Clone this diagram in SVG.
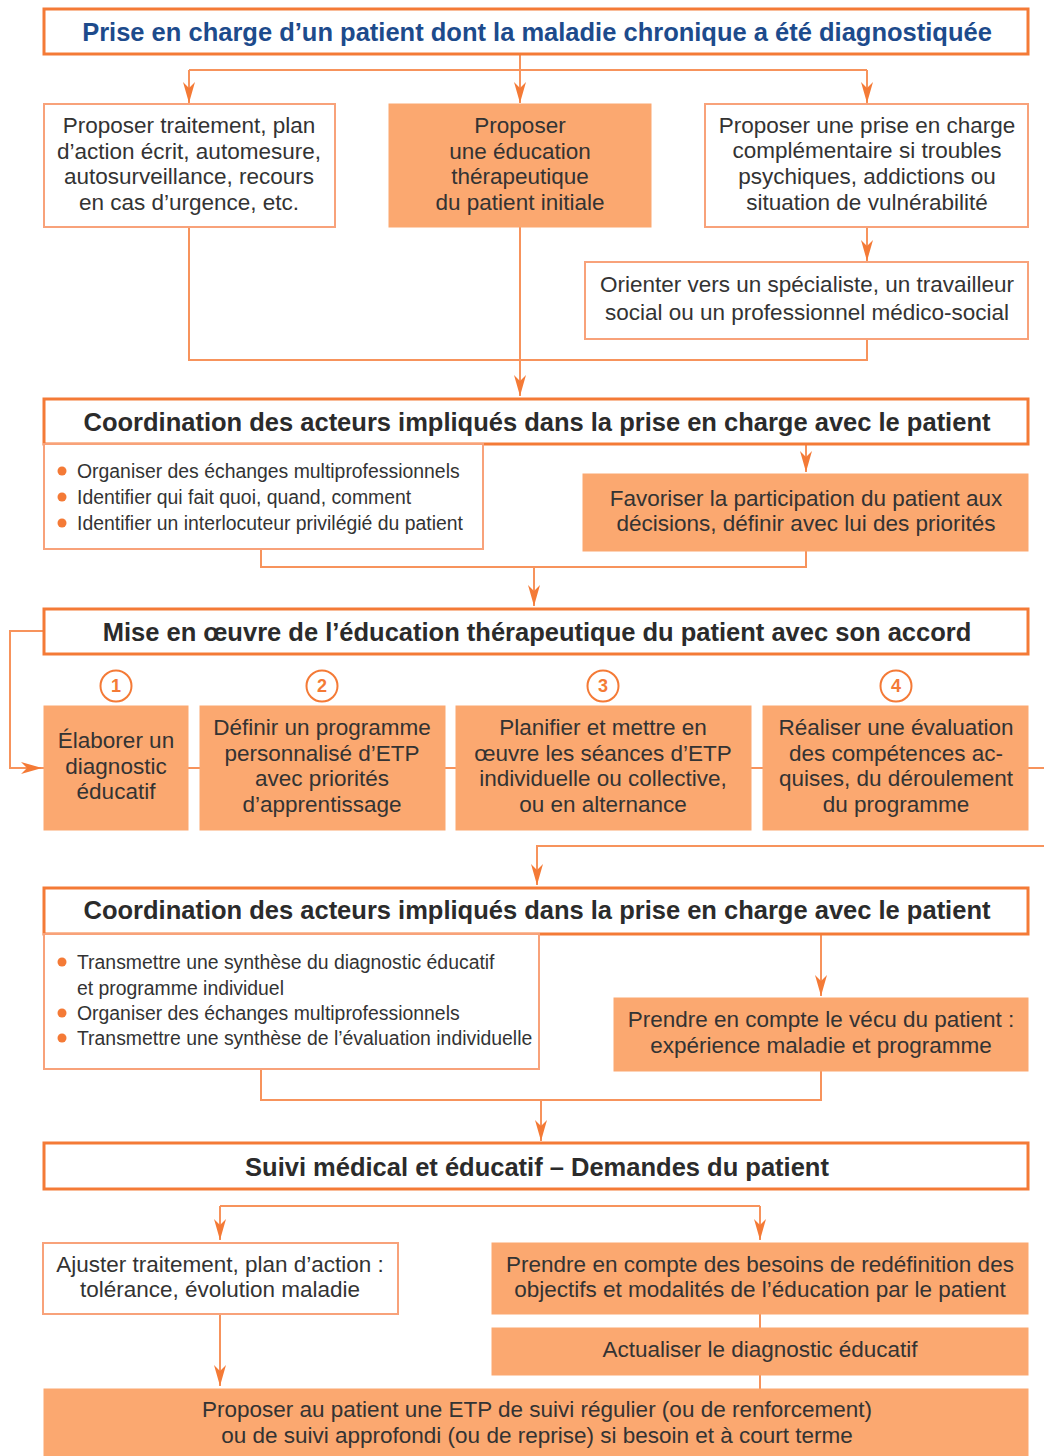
<svg xmlns="http://www.w3.org/2000/svg" width="1044" height="1456" viewBox="0 0 1044 1456">
<style>
.hdr{fill:#fff;stroke:#F47A36;stroke-width:3}
.wb{fill:#fff;stroke:#F8A27A;stroke-width:2}
.fb{fill:#FBA870;stroke:#FBA870;stroke-width:1}
.con{fill:none;stroke:#F7935C;stroke-width:2}
.t{font-family:"Liberation Sans",Arial,sans-serif;font-size:22.5px;fill:#333;text-anchor:middle}
.ht{font-family:"Liberation Sans",Arial,sans-serif;font-size:25.5px;font-weight:bold;fill:#2b2b2b;text-anchor:middle}
.bt{font-family:"Liberation Sans",Arial,sans-serif;font-size:19.4px;fill:#333}
.num{font-family:"Liberation Sans",Arial,sans-serif;font-size:18px;font-weight:bold;fill:#F47A36;text-anchor:middle}
.circ{fill:#fff;stroke:#F47A36;stroke-width:2}
.dot{fill:#F47A36}
</style>
<defs>
<marker id="ah" markerUnits="userSpaceOnUse" markerWidth="24" markerHeight="14" viewBox="-22 -7 24 14" refX="0" refY="0" orient="auto">
<path d="M0,0 L-21,-6 L-15,0 L-21,6 Z" fill="#F47A36"/>
</marker>
</defs>

<g id="connectors">
<path class="con" d="M520,54 V70 M189,70 H867" />
<path class="con" d="M189,70 V103" marker-end="url(#ah)"/>
<path class="con" d="M520,70 V103" marker-end="url(#ah)"/>
<path class="con" d="M867,70 V103" marker-end="url(#ah)"/>
<path class="con" d="M867,227 V261" marker-end="url(#ah)"/>
<path class="con" d="M189,227 V360 H867 V339"/>
<path class="con" d="M520,227 V396" marker-end="url(#ah)"/>
<path class="con" d="M806,444 V472" marker-end="url(#ah)"/>
<path class="con" d="M261,549 V567 H806 V551"/>
<path class="con" d="M534,567 V606" marker-end="url(#ah)"/>
<path class="con" d="M44,631 H10 V768 H42" marker-end="url(#ah)"/>
<path class="con" d="M42,768 H1044"/>
<path class="con" d="M1044,846 H537 V885" marker-end="url(#ah)"/>
<path class="con" d="M821,934 V996" marker-end="url(#ah)"/>
<path class="con" d="M261,1069 V1100 H821 V1071"/>
<path class="con" d="M541,1100 V1141" marker-end="url(#ah)"/>
<path class="con" d="M220,1206 H760"/>
<path class="con" d="M220,1206 V1240" marker-end="url(#ah)"/>
<path class="con" d="M760,1206 V1240" marker-end="url(#ah)"/>
<path class="con" d="M760,1314 V1328 M760,1375 V1389"/>
<path class="con" d="M220,1314 V1386" marker-end="url(#ah)"/>
</g>

<g id="header1">
<rect class="hdr" x="44" y="9" width="984" height="45"/>
<text class="ht" x="537" y="41" style="fill:#1D4B8C">Prise en charge d’un patient dont la maladie chronique a été diagnostiquée</text>
</g>

<g id="boxA">
<rect class="wb" x="44" y="104" width="291" height="123"/>
<text class="t" x="189" y="133">Proposer traitement, plan</text>
<text class="t" x="189" y="159">d’action écrit, automesure,</text>
<text class="t" x="189" y="184">autosurveillance, recours</text>
<text class="t" x="189" y="210">en cas d’urgence, etc.</text>
</g>

<g id="boxB">
<rect class="fb" x="389" y="104" width="262" height="123"/>
<text class="t" x="520" y="133">Proposer</text>
<text class="t" x="520" y="159">une éducation</text>
<text class="t" x="520" y="184">thérapeutique</text>
<text class="t" x="520" y="210">du patient initiale</text>
</g>

<g id="boxC">
<rect class="wb" x="705" y="104" width="323" height="123"/>
<text class="t" x="867" y="133">Proposer une prise en charge</text>
<text class="t" x="867" y="158">complémentaire si troubles</text>
<text class="t" x="867" y="184">psychiques, addictions ou</text>
<text class="t" x="867" y="210">situation de vulnérabilité</text>
</g>

<g id="boxD">
<rect class="wb" x="585" y="262" width="443" height="77"/>
<text class="t" x="807" y="292">Orienter vers un spécialiste, un travailleur</text>
<text class="t" x="807" y="320">social ou un professionnel médico-social</text>
</g>

<g id="header2">
<rect class="hdr" x="44" y="399" width="984" height="45"/>
<text class="ht" x="537" y="431">Coordination des acteurs impliqués dans la prise en charge avec le patient</text>
</g>

<g id="bullets1">
<rect class="wb" x="44" y="444" width="439" height="105"/>
<circle class="dot" cx="62" cy="471" r="4.5"/>
<circle class="dot" cx="62" cy="497" r="4.5"/>
<circle class="dot" cx="62" cy="523" r="4.5"/>
<text class="bt" x="77" y="478">Organiser des échanges multiprofessionnels</text>
<text class="bt" x="77" y="504">Identifier qui fait quoi, quand, comment</text>
<text class="bt" x="77" y="530">Identifier un interlocuteur privilégié du patient</text>
</g>

<g id="boxE">
<rect class="fb" x="583" y="474" width="445" height="77"/>
<text class="t" x="806" y="506">Favoriser la participation du patient aux</text>
<text class="t" x="806" y="531">décisions, définir avec lui des priorités</text>
</g>

<g id="header3">
<rect class="hdr" x="44" y="609" width="984" height="45"/>
<text class="ht" x="537" y="641">Mise en œuvre de l’éducation thérapeutique du patient avec son accord</text>
</g>

<g id="step1">
<circle class="circ" cx="116" cy="686" r="15.5"/>
<text class="num" x="116" y="692">1</text>
<rect class="fb" x="44" y="706" width="144" height="124"/>
<text class="t" x="116" y="748">Élaborer un</text>
<text class="t" x="116" y="774">diagnostic</text>
<text class="t" x="116" y="799">éducatif</text>
</g>

<g id="step2">
<circle class="circ" cx="322" cy="686" r="15.5"/>
<text class="num" x="322" y="692">2</text>
<rect class="fb" x="200" y="706" width="245" height="124"/>
<text class="t" x="322" y="735">Définir un programme</text>
<text class="t" x="322" y="761">personnalisé d’ETP</text>
<text class="t" x="322" y="786">avec priorités</text>
<text class="t" x="322" y="812">d’apprentissage</text>
</g>

<g id="step3">
<circle class="circ" cx="603" cy="686" r="15.5"/>
<text class="num" x="603" y="692">3</text>
<rect class="fb" x="456" y="706" width="295" height="124"/>
<text class="t" x="603" y="735">Planifier et mettre en</text>
<text class="t" x="603" y="761">œuvre les séances d’ETP</text>
<text class="t" x="603" y="786">individuelle ou collective,</text>
<text class="t" x="603" y="812">ou en alternance</text>
</g>

<g id="step4">
<circle class="circ" cx="896" cy="686" r="15.5"/>
<text class="num" x="896" y="692">4</text>
<rect class="fb" x="763" y="706" width="265" height="124"/>
<text class="t" x="896" y="735">Réaliser une évaluation</text>
<text class="t" x="896" y="761">des compétences ac-</text>
<text class="t" x="896" y="786">quises, du déroulement</text>
<text class="t" x="896" y="812">du programme</text>
</g>

<g id="header4">
<rect class="hdr" x="44" y="888" width="984" height="46"/>
<text class="ht" x="537" y="919">Coordination des acteurs impliqués dans la prise en charge avec le patient</text>
</g>

<g id="bullets2">
<rect class="wb" x="44" y="934" width="495" height="135"/>
<circle class="dot" cx="62" cy="962" r="4.5"/>
<circle class="dot" cx="62" cy="1013" r="4.5"/>
<circle class="dot" cx="62" cy="1038" r="4.5"/>
<text class="bt" x="77" y="969">Transmettre une synthèse du diagnostic éducatif</text>
<text class="bt" x="77" y="995">et programme individuel</text>
<text class="bt" x="77" y="1020">Organiser des échanges multiprofessionnels</text>
<text class="bt" x="77" y="1045">Transmettre une synthèse de l’évaluation individuelle</text>
</g>

<g id="boxF">
<rect class="fb" x="614" y="998" width="414" height="73"/>
<text class="t" x="821" y="1027">Prendre en compte le vécu du patient :</text>
<text class="t" x="821" y="1053">expérience maladie et programme</text>
</g>

<g id="header5">
<rect class="hdr" x="44" y="1143" width="984" height="46"/>
<text class="ht" x="537" y="1176">Suivi médical et éducatif – Demandes du patient</text>
</g>

<g id="boxG">
<rect class="wb" x="43" y="1243" width="355" height="71"/>
<text class="t" x="220" y="1272">Ajuster traitement, plan d’action :</text>
<text class="t" x="220" y="1297">tolérance, évolution maladie</text>
</g>

<g id="boxH">
<rect class="fb" x="492" y="1243" width="536" height="71"/>
<text class="t" x="760" y="1272">Prendre en compte des besoins de redéfinition des</text>
<text class="t" x="760" y="1297">objectifs et modalités de l’éducation par le patient</text>
</g>

<g id="boxI">
<rect class="fb" x="492" y="1328" width="536" height="47"/>
<text class="t" x="760" y="1357">Actualiser le diagnostic éducatif</text>
</g>

<g id="boxJ">
<rect class="fb" x="44" y="1389" width="984" height="72"/>
<text class="t" x="537" y="1417">Proposer au patient une ETP de suivi régulier (ou de renforcement)</text>
<text class="t" x="537" y="1443">ou de suivi approfondi (ou de reprise) si besoin et à court terme</text>
</g>
</svg>
